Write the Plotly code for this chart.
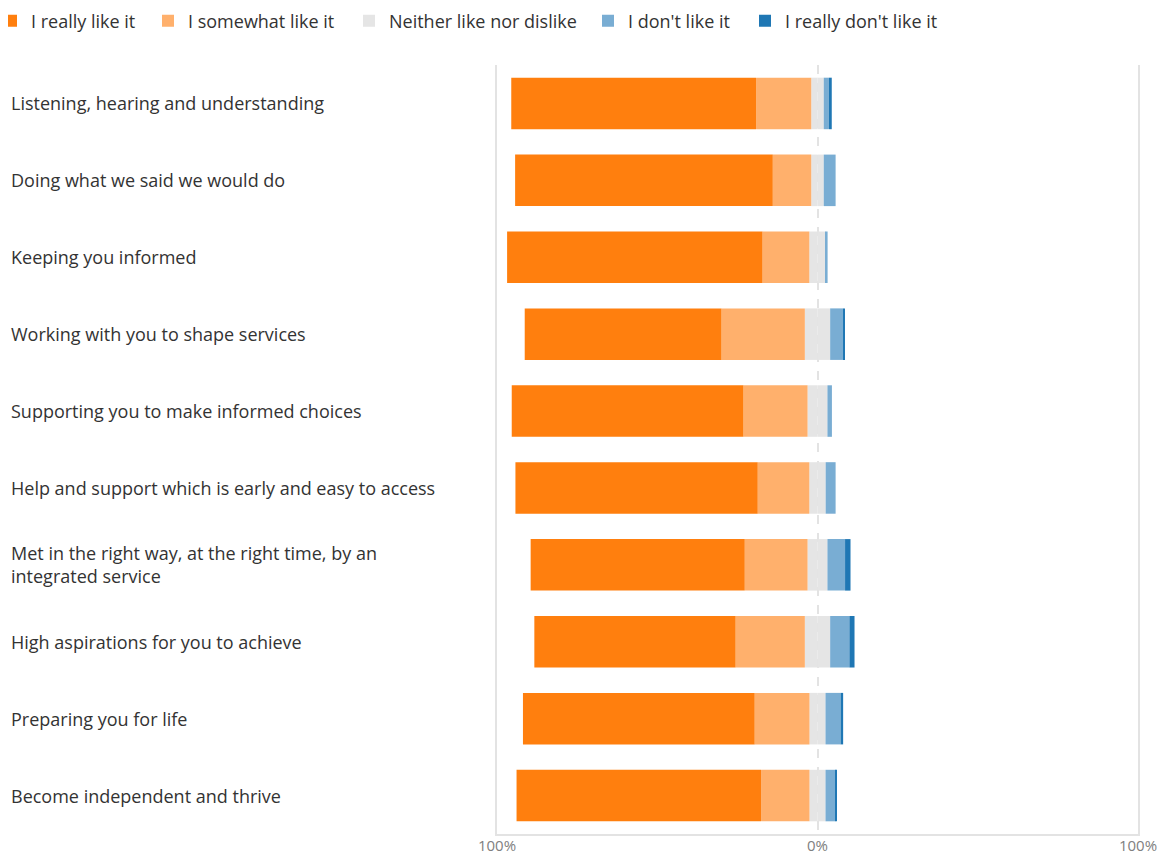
import plotly.graph_objects as go

categories = [
    "Listening, hearing and understanding",
    "Doing what we said we would do",
    "Keeping you informed",
    "Working with you to shape services",
    "Supporting you to make informed choices",
    "Help and support which is early and easy to access",
    "Met in the right way, at the right time, by an<br>integrated service",
    "High aspirations for you to achieve",
    "Preparing you for life",
    "Become independent and thrive",
]
really_like = [76.4, 80.4, 79.7, 61.4, 72.3, 75.6, 66.8, 62.8, 72.3, 76.3]
somewhat_like = [17.2, 12.0, 14.6, 26.0, 20.0, 16.1, 19.6, 21.6, 17.1, 15.1]
neither = [3.9, 3.9, 5.1, 7.9, 6.2, 5.1, 6.2, 7.9, 5.0, 5.0]
dont_like = [1.6, 3.7, 0.6, 4.1, 1.4, 3.1, 5.5, 6.0, 4.7, 3.1]
really_dont = [0.9, 0.0, 0.0, 0.4, 0.0, 0.0, 1.7, 1.6, 0.8, 0.4]

series_names = ["I really like it", "I somewhat like it", "Neither like nor dislike",
                "I don't like it", "I really don't like it"]
colors = ["#FF7F0E", "#FFB06C", "#E5E5E5", "#79ADD3", "#1F77B4"]
tick_vals = [-100, 0, 100]
tick_text = ["100%", "0%", "100%"]

FONT = "Open Sans"
TEXT = "#333333"
FS = 18

fig = go.Figure()
half_neutral = [v / 2 for v in neither]

# negative side (stacks outward from 0)
fig.add_trace(go.Bar(y=categories, x=[-v for v in half_neutral], orientation="h",
                     marker=dict(color=colors[2], line_width=0), name=series_names[2],
                     legend="legend3", hoverinfo="skip"))
fig.add_trace(go.Bar(y=categories, x=[-v for v in somewhat_like], orientation="h",
                     marker=dict(color=colors[1], line_width=0), name=series_names[1],
                     legend="legend2"))
fig.add_trace(go.Bar(y=categories, x=[-v for v in really_like], orientation="h",
                     marker=dict(color=colors[0], line_width=0), name=series_names[0],
                     legend="legend"))
# positive side
fig.add_trace(go.Bar(y=categories, x=half_neutral, orientation="h",
                     marker=dict(color=colors[2], line_width=0), name=series_names[2],
                     showlegend=False, hoverinfo="skip"))
fig.add_trace(go.Bar(y=categories, x=dont_like, orientation="h",
                     marker=dict(color=colors[3], line_width=0), name=series_names[3],
                     legend="legend4"))
fig.add_trace(go.Bar(y=categories, x=really_dont, orientation="h",
                     marker=dict(color=colors[4], line_width=0), name=series_names[4],
                     legend="legend5"))

# page body has an 8px margin; figure pixel = screen pixel - 8
W, H = 1159, 857
L, R, T, B = 489, 29, 57, 31
plot_w = W - L - R
plot_h = H - T - B

# left-aligned category labels
for cat in categories:
    fig.add_annotation(x=(1 - L) / plot_w, xref="paper", y=cat, yref="y", text=cat,
                       showarrow=False, xanchor="left", yanchor="middle", align="left",
                       font=dict(family=FONT, size=FS, color=TEXT))


def leg(px_left):
    return dict(orientation="h", x=(px_left - L) / plot_w, xanchor="left",
                y=1 + (T - 13) / plot_h, yanchor="middle",
                font=dict(family=FONT, size=FS, color=TEXT),
                bgcolor="rgba(0,0,0,0)", itemclick=False, itemdoubleclick=False)


fig.update_layout(
    width=W, height=H,
    margin=dict(l=L, r=R, t=T, b=B, autoexpand=False),
    paper_bgcolor="white", plot_bgcolor="white",
    barmode="relative", bargap=0.33,
    font=dict(family=FONT, color=TEXT),
    legend=leg(-17), legend2=leg(140), legend3=leg(341),
    legend4=leg(580), legend5=leg(737),
    xaxis=dict(range=[-100, 100], tickvals=tick_vals, ticktext=tick_text,
               showgrid=False, zeroline=False, ticks="",
               tickfont=dict(family=FONT, size=15, color="#808080"),
               ticklabelstandoff=-3,
               showline=True, linecolor="#E3E3E3", linewidth=1.5,
               minor=dict(tickvals=[0], showgrid=True, gridcolor="#E3E3E3",
                          griddash="dash", gridwidth=1.5, ticks=""),
               fixedrange=True),
    yaxis=dict(autorange="reversed", showticklabels=False, showgrid=False,
               zeroline=False, ticks="", showline=True, mirror=True,
               linecolor="#E3E3E3", linewidth=1.5, fixedrange=True),
)

fig.write_html("out.html")
